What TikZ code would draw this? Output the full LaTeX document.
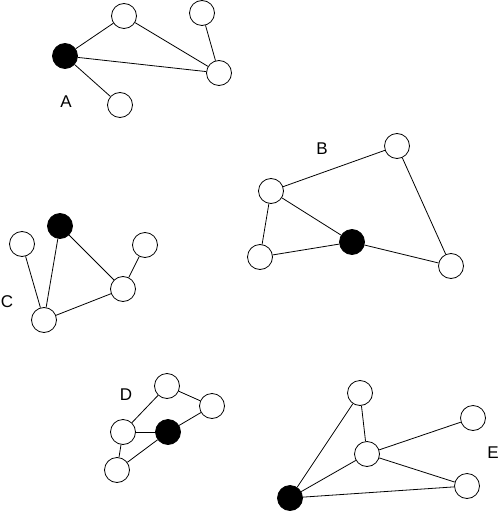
\documentclass[tikz,border=0pt]{standalone}
\usepackage{fontspec}
\setmainfont{Liberation Sans}
\begin{document}
\begin{tikzpicture}[x=1pt,y=-1pt,
  wn/.style={circle,draw,fill=white,minimum size=25pt,inner sep=0pt,line width=0.8pt},
  bn/.style={circle,draw,fill=black,minimum size=25pt,inner sep=0pt,line width=0.8pt},
  lbl/.style={font=\fontsize{17}{20}\selectfont,inner sep=0pt},
  edge/.style={line width=0.8pt}]
\useasboundingbox (0,0) rectangle (500,513);
% A
\node[bn] (a0) at (65,56) {};
\node[wn] (a1) at (124,16) {};
\node[wn] (a2) at (202,13) {};
\node[wn] (a3) at (219,73) {};
\node[wn] (a4) at (120,105) {};
\node[lbl] (la) at (66,102) {A};
% B
\node[wn] (b1) at (397,146) {};
\node[wn] (b2) at (271,191) {};
\node[wn] (b3) at (260,257) {};
\node[bn] (b0) at (352,242) {};
\node[wn] (b4) at (451,266) {};
\node[lbl] (lb) at (322,149) {B};
% C
\node[bn] (c0) at (60,226) {};
\node[wn] (c1) at (22,244) {};
\node[wn] (c2) at (145,245) {};
\node[wn] (c3) at (123,289) {};
\node[wn] (c4) at (44,320) {};
\node[lbl] (lc) at (7,302) {C};
% D
\node[wn] (d1) at (167,386) {};
\node[wn] (d2) at (212,406) {};
\node[wn] (d3) at (123,432) {};
\node[bn] (d0) at (168,432) {};
\node[wn] (d4) at (117,470) {};
\node[lbl] (ld) at (126,395) {D};
% E
\node[wn] (e1) at (360,393) {};
\node[wn] (e2) at (473,418) {};
\node[wn] (e3) at (367,454) {};
\node[wn] (e4) at (467,486) {};
\node[bn] (e0) at (290,498) {};
\node[lbl] (le) at (493,453) {E};
\begin{scope}[on background layer/.style={}]
\end{scope}
% edges
\draw[edge] (a0) -- (a1);
\draw[edge] (a1) -- (a3);
\draw[edge] (a0) -- (a3);
\draw[edge] (a0) -- (a4);
\draw[edge] (a2) -- (a3);
\draw[edge] (b2) -- (b1);
\draw[edge] (b1) -- (b4);
\draw[edge] (b2) -- (b0);
\draw[edge] (b2) -- (b3);
\draw[edge] (b3) -- (b0);
\draw[edge] (b0) -- (b4);
\draw[edge] (c1) -- (c4);
\draw[edge] (c0) -- (c4);
\draw[edge] (c0) -- (c3);
\draw[edge] (c4) -- (c3);
\draw[edge] (c3) -- (c2);
\draw[edge] (d1) -- (d3);
\draw[edge] (d1) -- (d2);
\draw[edge] (d2) -- (d0);
\draw[edge] (d3) -- (d0);
\draw[edge] (d3) -- (d4);
\draw[edge] (d4) -- (d0);
\draw[edge] (e0) -- (e1);
\draw[edge] (e1) -- (e3);
\draw[edge] (e0) -- (e3);
\draw[edge] (e3) -- (e2);
\draw[edge] (e3) -- (e4);
\draw[edge] (e0) -- (e4);
\end{tikzpicture}
\end{document}
